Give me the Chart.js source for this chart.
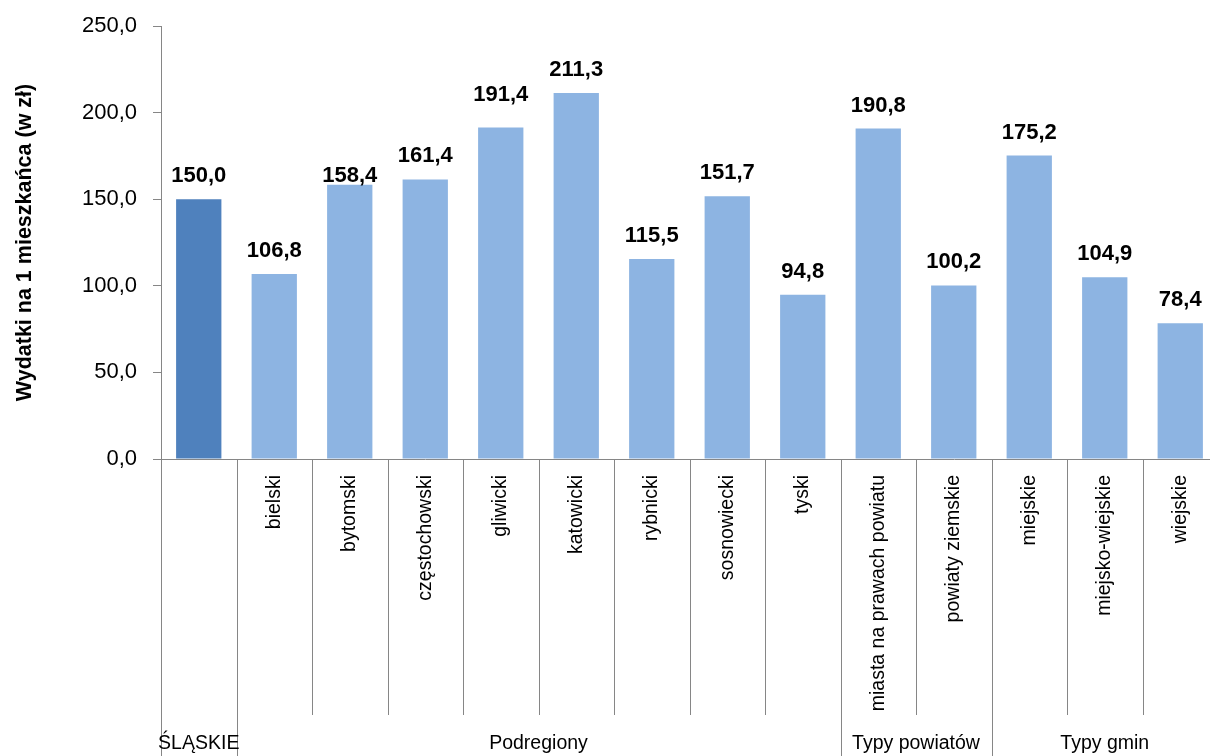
<!DOCTYPE html>
<html>
<head>
<meta charset="utf-8">
<script src="https://cdn.jsdelivr.net/npm/chart.js@4/dist/chart.umd.min.js"></script>
<style>
html, body { margin: 0; padding: 0; background: #fff; overflow: hidden; }
#wrap { position: relative; width: 1226px; height: 756px; }
</style>
</head>
<body>
<div id="wrap"><canvas id="myChart"></canvas></div>
<script>
const categories = [
  '',
  'bielski',
  'bytomski',
  'częstochowski',
  'gliwicki',
  'katowicki',
  'rybnicki',
  'sosnowiecki',
  'tyski',
  'miasta na prawach powiatu',
  'powiaty ziemskie',
  'miejskie',
  'miejsko-wiejskie',
  'wiejskie',
];

const values = [150.0, 106.8, 158.4, 161.4, 191.4, 211.3, 115.5, 151.7, 94.8, 190.8, 100.2, 175.2, 104.9, 78.4];

const groupNames = ['ŚLĄSKIE', 'Podregiony', 'Typy powiatów', 'Typy gmin'];
const groupSizes = [1, 8, 2, 3];

const yTicks = [0, 50, 100, 150, 200, 250];

const FONT = "'Liberation Sans', Arial, sans-serif";
const AXIS_GREY = '#868686';

function fmt(v) {
  return v.toFixed(1).replace('.', ',');
}

// Excel nudged a couple of labels to avoid overlap
const labelNudge = {2: 14, 4: -9};

const valueLabels = {
  id: 'valueLabels',
  afterDatasetsDraw(chart) {
    const ctx = chart.ctx;
    const meta = chart.getDatasetMeta(0);
    ctx.save();
    ctx.font = 'bold 22px ' + FONT;
    ctx.fillStyle = '#000';
    ctx.textAlign = 'center';
    ctx.textBaseline = 'alphabetic';
    meta.data.forEach((bar, i) => {
      const y = bar.y - 17 + (labelNudge[i] || 0);
      ctx.fillText(fmt(values[i]), bar.x, y);
    });
    ctx.restore();
  }
};

const groupAxis = {
  id: 'groupAxis',
  afterDraw(chart) {
    const ctx = chart.ctx;
    const x = chart.scales.x;
    const area = chart.chartArea;
    const step = x.getPixelForValue(1) - x.getPixelForValue(0);
    const edge = i => x.getPixelForValue(i) - step / 2;

    const groupEdges = [0];
    groupSizes.forEach(n => groupEdges.push(groupEdges[groupEdges.length - 1] + n));

    ctx.save();
    ctx.strokeStyle = AXIS_GREY;
    ctx.lineWidth = 1;
    for (let i = 0; i <= categories.length; i++) {
      const px = Math.round(edge(i)) + 0.5;
      const bottom = groupEdges.includes(i) ? chart.height : area.bottom + 256;
      ctx.beginPath();
      ctx.moveTo(px, area.bottom);
      ctx.lineTo(px, bottom);
      ctx.stroke();
    }

    ctx.font = '19.5px ' + FONT;
    ctx.fillStyle = '#000';
    ctx.textAlign = 'center';
    ctx.textBaseline = 'middle';
    groupNames.forEach((name, g) => {
      const cx = (edge(groupEdges[g]) + edge(groupEdges[g + 1])) / 2;
      ctx.fillText(name, cx, area.bottom + 285);
    });
    ctx.restore();
  }
};

const barColors = values.map((v, i) => i === 0 ? '#4F81BD' : '#8DB4E2');

const data = {
  labels: categories,
  datasets: [{
    data: values,
    backgroundColor: barColors,
    borderWidth: 0,
    barPercentage: 0.6,
    categoryPercentage: 1.0,
  }]
};

const config = {
  type: 'bar',
  data,
  options: {
    responsive: true,
    maintainAspectRatio: false,
    animation: false,
    layout: {
      padding: {top: 26, right: 8, bottom: 0, left: 0}
    },
    plugins: {
      legend: {display: false},
      tooltip: {enabled: false}
    },
    scales: {
      x: {
        grid: {display: false, drawTicks: false, tickLength: 0},
        border: {display: true, color: AXIS_GREY, width: 1},
        ticks: {
          autoSkip: false,
          maxRotation: 90,
          minRotation: 90,
          padding: 16,
          color: '#000',
          font: {family: FONT, size: 19.5}
        },
        afterFit(scale) {
          scale.height = 297;
          scale.paddingLeft = 0;
          scale.paddingRight = 0;
        }
      },
      y: {
        min: 0,
        max: 250,
        afterBuildTicks(scale) {
          scale.ticks = yTicks.map(v => ({value: v}));
        },
        grid: {
          drawOnChartArea: false,
          drawTicks: true,
          tickLength: 8,
          color: AXIS_GREY
        },
        border: {display: true, color: AXIS_GREY, width: 1},
        ticks: {
          padding: 16,
          color: '#000',
          font: {family: FONT, size: 22},
          callback: v => fmt(v)
        },
        title: {
          display: true,
          text: 'Wydatki na 1 mieszkańca (w zł)',
          color: '#000',
          font: {family: FONT, size: 21.5, weight: 'bold'},
          padding: {top: 12, bottom: 0}
        },
        afterFit(scale) {
          scale.width = 161;
          scale.paddingTop = 0;
          scale.paddingBottom = 0;
        }
      }
    }
  },
  plugins: [valueLabels, groupAxis]
};

var myChart = new Chart(
  document.getElementById('myChart'),
  config
);
</script>
</body>
</html>
